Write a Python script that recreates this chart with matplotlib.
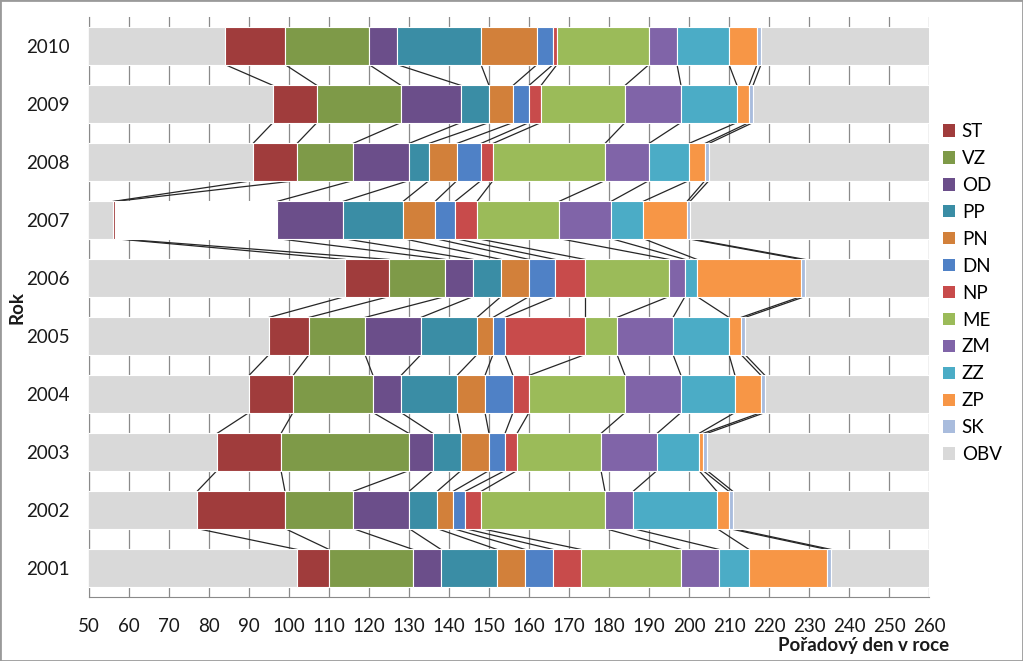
import numpy as np
import matplotlib.pyplot as plt
from matplotlib.patches import Patch, Rectangle

plt.rcParams['font.family'] = ['Lato', 'DejaVu Sans']

# Data: years and phase durations (days), start = day of the first phase
years = ['2001', '2002', '2003', '2004', '2005', '2006', '2007', '2008', '2009', '2010']
start = [102, 77, 82, 90, 95, 114, 56, 91, 96, 84]

phases = ['ST', 'VZ', 'OD', 'PP', 'PN', 'DN', 'NP', 'ME', 'ZM', 'ZZ', 'ZP', 'SK']
st = [8, 22, 16, 11, 10, 11, 0.5, 11, 11, 15]
vz = [21, 17, 32, 20, 14, 14, 40.5, 14, 21, 21]
od = [7, 14, 6, 7, 14, 7, 16.5, 14, 15, 7]
pp = [14, 7, 7, 14, 14, 7, 15, 5, 7, 21]
pn = [7, 4, 7, 7, 4, 7, 8, 7, 6, 14]
dn = [7, 3, 4, 7, 3, 6.5, 5, 6, 4, 4]
np_ = [7, 4, 3, 4, 20, 7.5, 5.5, 3, 3, 1]
me = [25, 31, 21, 24, 8, 21, 20.5, 28, 21, 23]
zm = [9.5, 7, 14, 14, 14, 4, 13, 11, 14, 7]
zz = [7.5, 21, 10.5, 13.5, 14, 3, 8, 10, 14, 13]
zp = [19.5, 3, 1, 6.5, 3, 26, 11, 4, 3, 7]
sk = [1, 1, 1, 1, 1, 1, 0.75, 1, 1, 1]
year_len = 365

colors = ['#A03C3C', '#7E9A48', '#6B4E8A', '#3A8DA5', '#D2803A', '#4F81C6',
          '#C84B4B', '#9BBB59', '#8064A8', '#4BACC6', '#F79646', '#A9BCDD']
obv_color = '#D9D9D9'

series = [st, vz, od, pp, pn, dn, np_, me, zm, zz, zp, sk]

fig = plt.figure(figsize=(10.23, 6.61), dpi=100)
ax = fig.add_axes([89/1023, 1 - 597/661, 840/1023, 580/661])

y = np.arange(len(years))
h = 0.64

# shadow under bars
ax.barh(y - 0.03, year_len, left=0, height=h, color='#ababab', zorder=2)

# leading OBV
ax.barh(y, start, left=0, height=h, color=obv_color, edgecolor='white', lw=0.8, zorder=3)

left = np.array(start, dtype=float)
ends = [left.copy()]
for name, vals, col in zip(phases, series, colors):
    vals = np.array(vals, dtype=float)
    cols = [col] * len(years)
    if name == 'VZ':
        cols[years.index('2007')] = 'white'
    ax.barh(y, vals, left=left, height=h, color=cols, edgecolor='white', lw=0.8, zorder=3)
    left = left + vals
    ends.append(left.copy())

# trailing OBV
ax.barh(y, year_len - left, left=left, height=h, color=obv_color, edgecolor='white', lw=0.8, zorder=3)

# series lines between neighbouring bars
for e in ends:
    for i in range(len(years) - 1):
        ax.plot([e[i], e[i + 1]], [y[i] + h / 2, y[i + 1] - h / 2],
                color='#262626', lw=0.9, zorder=2.5)

ax.set_xlim(50, 260)
ax.set_ylim(-0.5, len(years) - 0.5)
ax.set_xticks(np.arange(50, 261, 10))
ax.set_yticks(y)
ax.set_yticklabels(years)
ax.tick_params(axis='both', length=0, labelsize=13.5, colors='#1a1a1a')
ax.tick_params(axis='x', pad=15)
ax.tick_params(axis='y', pad=14)
ax.grid(axis='x', color='#8a8a8a', lw=0.9, zorder=0)
ax.set_axisbelow(True)
for s in ['top', 'right']:
    ax.spines[s].set_visible(False)
for s in ['left', 'bottom']:
    ax.spines[s].set_color('#8a8a8a')

fig.text(949/1023, 1 - 645/661, 'Pořadový den v roce', ha='right', va='center',
         fontsize=13.5, fontweight='bold', color='#1a1a1a')
fig.text(17/1023, 1 - 308/661, 'Rok', ha='center', va='center', rotation=90,
         fontsize=13.5, fontweight='bold', color='#1a1a1a')

handles = [Patch(facecolor=c) for c in colors] + [Patch(facecolor=obv_color)]
labels = phases + ['OBV']
fig.legend(handles, labels, loc='upper left', bbox_to_anchor=(943/1023, 1 - 123/661),
           frameon=False, fontsize=13.5, handlelength=0.65, handleheight=0.65,
           handletextpad=0.35, labelspacing=0.53, borderpad=0, borderaxespad=0)

fig.patches.append(Rectangle((0, 0), 1, 1, transform=fig.transFigure, fill=False,
                             edgecolor='#9a9a9a', lw=2))

fig.savefig('out.png', dpi=100)
